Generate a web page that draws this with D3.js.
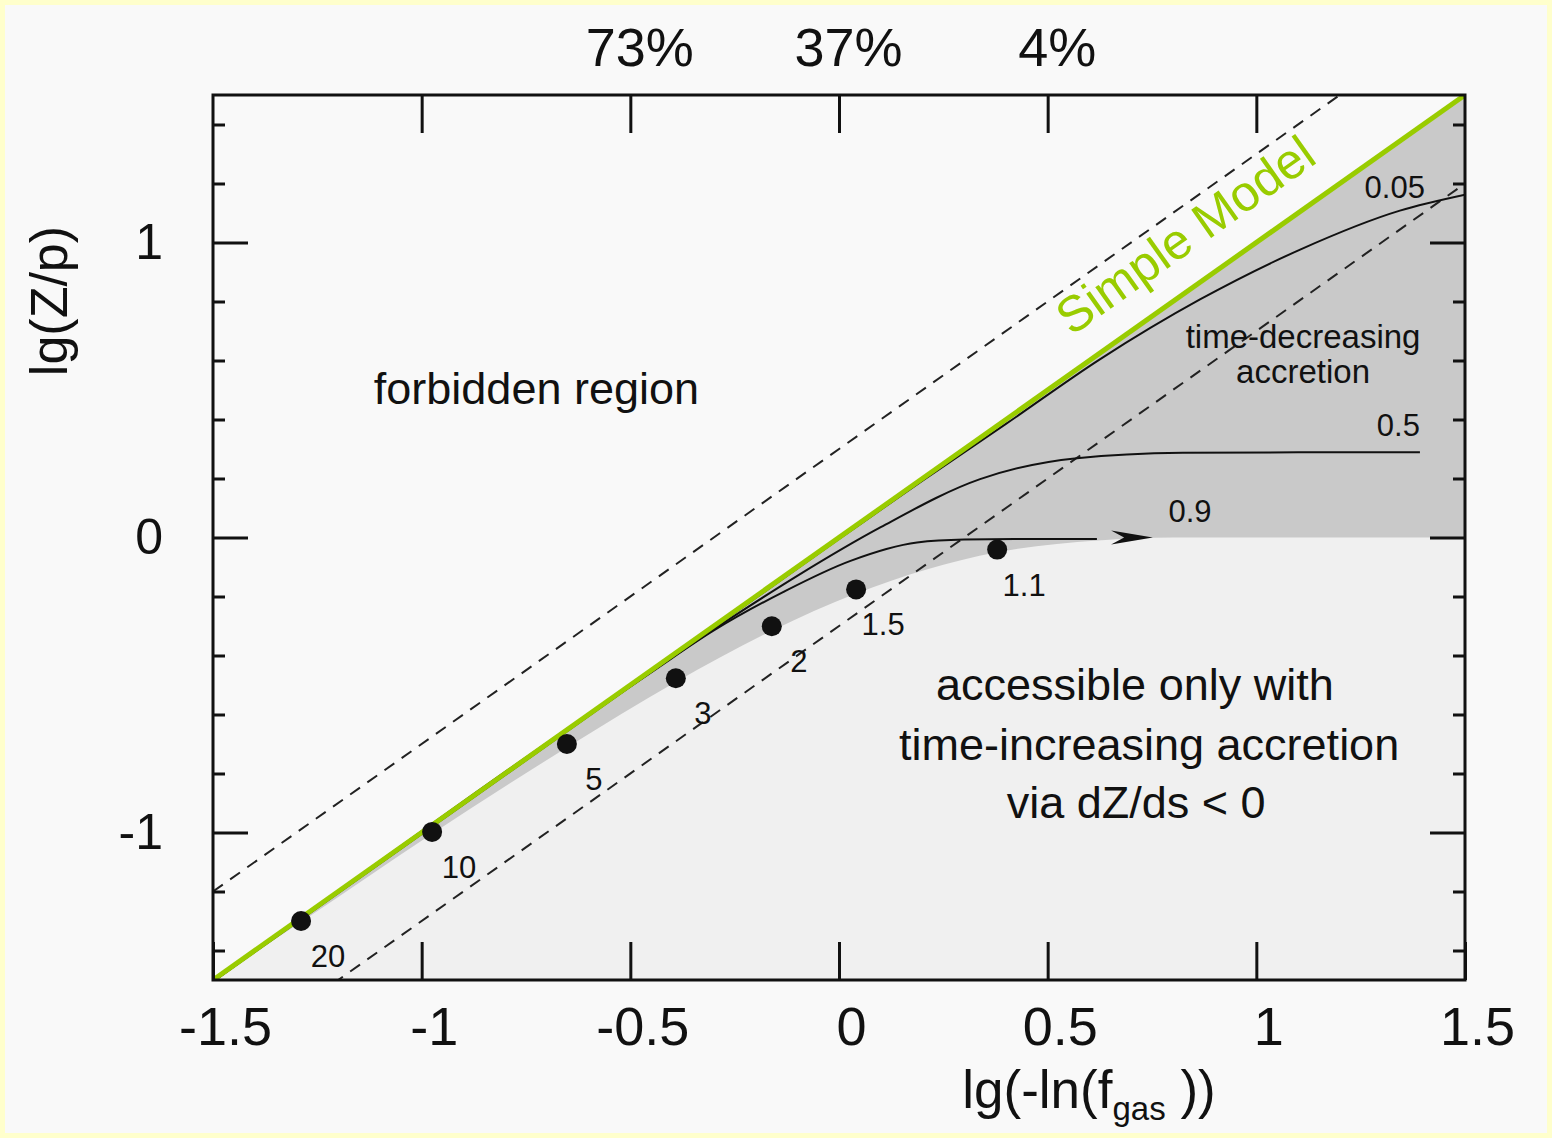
<!DOCTYPE html>
<html><head><meta charset="utf-8">
<script src="https://cdn.jsdelivr.net/npm/d3@7"></script>
<style>
html,body{margin:0;padding:0;background:#ffffcc;}
svg{display:block;}
text{font-family:"Liberation Sans",Arial,Helvetica,sans-serif;}
</style>
</head><body>
<svg id="chart" width="1552" height="1138"></svg>
<script>
// ---------- data ----------
const xTickValues = [-1.5, -1, -0.5, 0, 0.5, 1, 1.5];
const xTickLabels = ["-1.5", "-1", "-0.5", "0", "0.5", "1", "1.5"];
const yMajorTicks = [-1, 0, 1];
const yTickLabels = ["-1", "0", "1"];
const yMinorTicks = [-1.4, -1.2, -0.8, -0.6, -0.4, -0.2, 0.2, 0.4, 0.6, 0.8, 1.2, 1.4];
const topTickValues = [-1, -0.5, 0, 0.5, 1];
const topLabelValues = [-0.5, 0, 0.5];
const topLabels = ["73%", "37%", "4%"];

const dotX = [-1.289, -0.975, -0.652, -0.391, -0.161, 0.041, 0.379];
const dotY = [-1.30, -0.998, -0.70, -0.477, -0.301, -0.176, -0.041];
const dotLabels = ["20", "10", "5", "3", "2", "1.5", "1.1"];

const boundX = [-1.5, -1.289, -0.975, -0.652, -0.391, -0.161, 0.041, 0.379, 0.62, 0.8, 1.5];
const boundY = [-1.5, -1.303, -1.004, -0.712, -0.49, -0.316, -0.19, -0.05, -0.01, 0, 0];

const curve005X = [-1.5, 0, 0.2, 0.4, 0.625, 0.865, 1.105, 1.344, 1.5];
const curve005Y = [-1.5, 0, 0.198, 0.39, 0.609, 0.812, 0.981, 1.113, 1.167];
const curve05X = [-1.5, -0.4, -0.25, -0.1, 0.1, 0.338, 0.57, 0.824, 1.1, 1.392];
const curve05Y = [-1.5, -0.401, -0.26, -0.125, 0.04, 0.203, 0.274, 0.292, 0.294, 0.294];
const curve09X = [-1.5, -0.45, -0.3, -0.134, 0.026, 0.187, 0.3, 0.45, 0.618];
const curve09Y = [-1.5, -0.452, -0.31, -0.18, -0.075, -0.012, -0.002, 0, 0];
const curveLabels = ["0.05", "0.5", "0.9"];

const simpleX = [-1.5, 1.5];
const simpleY = [-1.5, 1.5];
const dashOffsets = [0.3, -0.3];

// ---------- layout ----------
const W = 1552, H = 1138;
const m = {l: 213, r: 1465, t: 95, b: 980};
const x = d3.scaleLinear().domain([-1.5, 1.5]).range([m.l, m.r]);
const y = d3.scaleLinear().domain([-1.5, 1.5]).range([m.b, m.t]);
const svg = d3.select("#chart");
const INK = "#111";
const GREEN = "#99cc00";

svg.append("rect").attr("width", W).attr("height", H).attr("fill", "#ffffcc");
svg.append("rect").attr("x", 5).attr("y", 5).attr("width", W - 10).attr("height", H - 10).attr("fill", "#f9f9f9");

svg.append("defs").append("clipPath").attr("id", "clip")
  .append("rect").attr("x", m.l).attr("y", m.t).attr("width", m.r - m.l).attr("height", m.b - m.t);

const plot = svg.append("g").attr("clip-path", "url(#clip)");

// region below the simple model line
plot.append("path")
  .attr("d", d3.line()([[x(-1.5), y(-1.5)], [x(1.5), y(1.5)], [x(1.5), y(-1.5)]]) + "Z")
  .attr("fill", "#f0f0f0");

// dark region
const bound = boundX.map((v, i) => ({x: v, y: boundY[i]}));
plot.append("path").datum(bound)
  .attr("d", d3.area().x(d => x(d.x)).y0(d => y(d.y)).y1(d => y(d.x)).curve(d3.curveMonotoneX))
  .attr("fill", "#c9c9c9");

// dashed lines
dashOffsets.forEach(c => {
  plot.append("line")
    .attr("x1", x(-1.5)).attr("y1", y(-1.5 + c))
    .attr("x2", x(1.5)).attr("y2", y(1.5 + c))
    .attr("stroke", "#222").attr("stroke-width", 2).attr("stroke-dasharray", "12,9");
});

// curves
const lineGen = d3.line().x(d => x(d[0])).y(d => y(d[1])).curve(d3.curveMonotoneX);
[[curve005X, curve005Y], [curve05X, curve05Y], [curve09X, curve09Y]].forEach(([cx, cy]) => {
  plot.append("path").datum(cx.map((v, i) => [v, cy[i]]))
    .attr("d", lineGen).attr("fill", "none").attr("stroke", INK).attr("stroke-width", 2)
    .attr("transform", "translate(0,1.5)");
});

// arrow head on 0.9 curve
{
  const ax0 = x(0.652), ax1 = x(0.752), ay = y(0);
  plot.append("path")
    .attr("d", `M${ax1},${ay} L${ax0},${ay - 7} L${ax0 + 13},${ay} L${ax0},${ay + 7} Z`)
    .attr("fill", INK);
}

// simple model line
plot.append("path").datum(simpleX.map((v, i) => [v, simpleY[i]]))
  .attr("d", d3.line().x(d => x(d[0])).y(d => y(d[1])))
  .attr("stroke", GREEN).attr("stroke-width", 5).attr("fill", "none");

// dots
dotX.forEach((v, i) => {
  plot.append("circle").attr("cx", x(v)).attr("cy", y(dotY[i])).attr("r", 10).attr("fill", INK);
  svg.append("text").attr("x", x(v) + 27).attr("y", y(dotY[i]) + 46)
    .attr("text-anchor", "middle").attr("font-size", 31).attr("fill", INK).text(dotLabels[i]);
});

// curve labels
svg.append("text").attr("x", x(1.404)).attr("y", y(1.151)).attr("text-anchor", "end")
  .attr("font-size", 31).attr("fill", INK).text(curveLabels[0]);
svg.append("text").attr("x", x(1.392)).attr("y", y(0.345)).attr("text-anchor", "end")
  .attr("font-size", 31).attr("fill", INK).text(curveLabels[1]);
svg.append("text").attr("x", x(0.841)).attr("y", y(0.051)).attr("text-anchor", "middle")
  .attr("font-size", 31).attr("fill", INK).text(curveLabels[2]);

// annotations
svg.append("text").attr("x", x(-0.725)).attr("y", y(0.453)).attr("text-anchor", "middle")
  .attr("font-size", 45).attr("fill", INK).text("forbidden region");
svg.append("text").attr("x", x(1.112)).attr("y", y(0.643)).attr("text-anchor", "middle")
  .attr("font-size", 33).attr("fill", INK).text("time-decreasing");
svg.append("text").attr("x", x(1.112)).attr("y", y(0.525)).attr("text-anchor", "middle")
  .attr("font-size", 33).attr("fill", INK).text("accretion");
const accLines = ["accessible only with", "time-increasing accretion", "via dZ/ds < 0"];
const accX = [0.709, 0.743, 0.712];
const accY = [-0.552, -0.755, -0.951];
accLines.forEach((t, i) => {
  svg.append("text").attr("x", x(accX[i])).attr("y", y(accY[i])).attr("text-anchor", "middle")
    .attr("font-size", 45).attr("fill", INK).text(t);
});

// Simple Model label along the line
{
  const ang = Math.atan2(y(1) - y(0), x(1) - x(0)) * 180 / Math.PI;
  const rad = ang * Math.PI / 180;
  const px = x(0.895), py = y(0.895);
  const off = 30;
  const bx = px + Math.sin(rad) * off, by = py - Math.cos(rad) * off;
  svg.append("text").attr("transform", `translate(${bx},${by}) rotate(${ang})`)
    .attr("text-anchor", "middle").attr("font-size", 50).attr("fill", GREEN).text("Simple Model");
}

// frame
svg.append("rect").attr("x", m.l).attr("y", m.t).attr("width", m.r - m.l).attr("height", m.b - m.t)
  .attr("fill", "none").attr("stroke", INK).attr("stroke-width", 3);

// axes
function styleAxis(g, fs, dx) {
  g.select(".domain").remove();
  g.selectAll(".tick line").attr("stroke", INK).attr("stroke-width", 3);
  g.selectAll(".tick text").attr("font-size", fs).attr("fill", INK).attr("dx", dx || 0);
}
svg.append("g").attr("transform", `translate(0,${m.b})`)
  .call(d3.axisBottom(x).tickValues(xTickValues).tickFormat((d, i) => xTickLabels[i])
    .tickSizeInner(-38).tickSizeOuter(0).tickPadding(27))
  .call(g => styleAxis(g, 54, 12));
svg.append("g").attr("transform", `translate(0,${m.t})`)
  .call(d3.axisTop(x).tickValues(topTickValues).tickFormat("").tickSizeInner(-38).tickSizeOuter(0))
  .call(g => styleAxis(g, 10));
svg.append("g").attr("transform", `translate(0,${m.t})`)
  .call(d3.axisTop(x).tickValues(topLabelValues).tickFormat((d, i) => topLabels[i]).tickSize(0).tickPadding(29))
  .call(g => { styleAxis(g, 54, 9); g.selectAll(".tick line").remove(); });
svg.append("g").attr("transform", `translate(${m.l},0)`)
  .call(d3.axisLeft(y).tickValues(yMajorTicks).tickFormat((d, i) => yTickLabels[i])
    .tickSizeInner(-35).tickSizeOuter(0).tickPadding(50))
  .call(g => styleAxis(g, 50, 0));
svg.append("g").attr("transform", `translate(${m.l},0)`)
  .call(d3.axisLeft(y).tickValues(yMinorTicks).tickFormat("").tickSizeInner(-12).tickSizeOuter(0))
  .call(g => styleAxis(g, 10));
svg.append("g").attr("transform", `translate(${m.r},0)`)
  .call(d3.axisRight(y).tickValues(yMajorTicks).tickFormat("").tickSizeInner(-35).tickSizeOuter(0))
  .call(g => styleAxis(g, 10));
svg.append("g").attr("transform", `translate(${m.r},0)`)
  .call(d3.axisRight(y).tickValues(yMinorTicks).tickFormat("").tickSizeInner(-12).tickSizeOuter(0))
  .call(g => styleAxis(g, 10));

// axis titles
svg.append("text").attr("transform", "translate(67,301) rotate(-90)").attr("text-anchor", "middle")
  .attr("font-size", 52).attr("fill", INK).text("lg(Z/p)");
{
  const t = svg.append("text").attr("x", 1089).attr("y", 1108).attr("text-anchor", "middle")
    .attr("font-size", 53).attr("fill", INK).style("white-space", "pre");
  t.append("tspan").text("lg(-ln(f");
  t.append("tspan").attr("font-size", 33).attr("dy", 12).text("gas");
  t.append("tspan").attr("dy", -12).text(" ))");
}
</script>
</body></html>
